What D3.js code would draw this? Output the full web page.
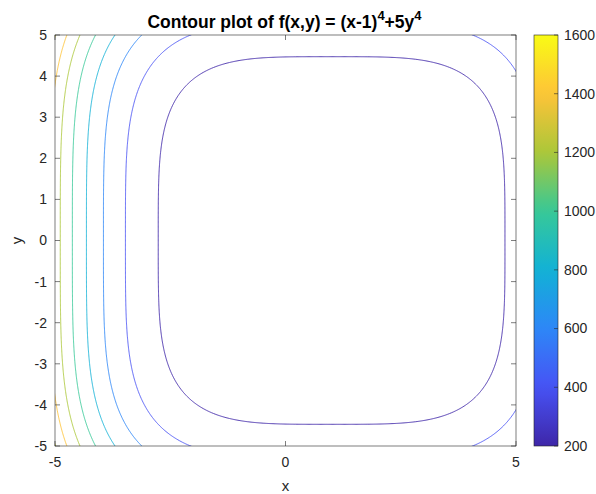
<!DOCTYPE html>
<html>
<head>
<meta charset="utf-8">
<script src="https://cdn.jsdelivr.net/npm/d3@7"></script>
<style>
  html, body { margin: 0; padding: 0; background: #fff; }
  svg { display: block; font-family: "Liberation Sans", Arial, Helvetica, sans-serif; }
</style>
</head>
<body>
<svg id="chart" width="596" height="494"></svg>
<script>
// Contour levels drawn and colour limits of the colour bar
const levels = [200, 400, 600, 800, 1000, 1200, 1400, 1600];
const colorLimits = [200, 1600];
const colorbarTicks = [200, 400, 600, 800, 1000, 1200, 1400, 1600];

// Axis ranges and tick values
const xDomain = [-5, 5];
const yDomain = [-5, 5];
const xTicks = [-5, 0, 5];
const yTicks = [-5, -4, -3, -2, -1, 0, 1, 2, 3, 4, 5];

// Terms of the surface: f = (x - xShift)^4 + yWeight * y^4
const xShift = [1];
const yWeight = [0.5];

// Parula colormap key colours (evenly spaced)
const parulaStops = [
  [0.2422, 0.1504, 0.6603],
  [0.2810, 0.3228, 0.9579],
  [0.1786, 0.5289, 0.9682],
  [0.0689, 0.6948, 0.8394],
  [0.2161, 0.7843, 0.5923],
  [0.6720, 0.7793, 0.2227],
  [0.9970, 0.7659, 0.2199],
  [0.9769, 0.9839, 0.0805]
];

const svg = d3.select("#chart");
const plot = { left: 55, right: 516, top: 35, bottom: 446 };
const cbar = { left: 534, right: 558, top: 35, bottom: 446 };
const axisColor = "#262626";
const tickLen = 5;

const x = d3.scaleLinear().domain(xDomain).range([plot.left, plot.right]);
const y = d3.scaleLinear().domain(yDomain).range([plot.bottom, plot.top]);

const parula = d3.piecewise(d3.interpolateRgb,
  parulaStops.map(c => d3.rgb(c[0] * 255, c[1] * 255, c[2] * 255)));
const color = d3.scaleSequential(parula).domain(colorLimits);

// Sample the surface on a grid slightly wider than the axes so that
// the grid border never shows inside the clipped plot area.
const pad = 0.25, step = 0.02;
const gx0 = xDomain[0] - pad, gy0 = yDomain[0] - pad;
const n = Math.round((xDomain[1] - xDomain[0] + 2 * pad) / step) + 1;
const m = Math.round((yDomain[1] - yDomain[0] + 2 * pad) / step) + 1;
const values = new Float64Array(n * m);
for (let j = 0; j < m; j++) {
  const yy = gy0 + j * step;
  for (let i = 0; i < n; i++) {
    const xx = gx0 + i * step;
    values[j * n + i] = Math.pow(xx - xShift[0], 4) + yWeight[0] * Math.pow(yy, 4);
  }
}

const contours = d3.contours().size([n, m]).thresholds(levels)(values);

// Grid coordinates (values sit at cell centres) -> pixel coordinates
const toPixels = d3.geoTransform({
  point(px, py) {
    this.stream.point(x(gx0 + (px - 0.5) * step), y(gy0 + (py - 0.5) * step));
  }
});
const path = d3.geoPath(toPixels);

const defs = svg.append("defs");
defs.append("clipPath").attr("id", "plot-clip")
  .append("rect")
  .attr("x", plot.left).attr("y", plot.top)
  .attr("width", plot.right - plot.left).attr("height", plot.bottom - plot.top);

svg.append("g")
  .attr("clip-path", "url(#plot-clip)")
  .selectAll("path")
  .data(contours)
  .join("path")
  .attr("d", path)
  .attr("fill", "none")
  .attr("stroke", d => color(d.value))
  .attr("stroke-width", 0.9);

// Axes box with inward ticks on all four sides
const axes = svg.append("g").attr("stroke", axisColor).attr("stroke-width", 0.6);
axes.append("rect")
  .attr("x", plot.left).attr("y", plot.top)
  .attr("width", plot.right - plot.left).attr("height", plot.bottom - plot.top)
  .attr("fill", "none");

xTicks.forEach(t => {
  axes.append("line").attr("x1", x(t)).attr("x2", x(t)).attr("y1", plot.bottom).attr("y2", plot.bottom - tickLen);
  axes.append("line").attr("x1", x(t)).attr("x2", x(t)).attr("y1", plot.top).attr("y2", plot.top + tickLen);
});
yTicks.forEach(t => {
  axes.append("line").attr("x1", plot.left).attr("x2", plot.left + tickLen).attr("y1", y(t)).attr("y2", y(t));
  axes.append("line").attr("x1", plot.right).attr("x2", plot.right - tickLen).attr("y1", y(t)).attr("y2", y(t));
});

const tickFont = 14;
svg.append("g").selectAll("text").data(xTicks).join("text")
  .attr("x", d => x(d)).attr("y", plot.bottom + 21)
  .attr("text-anchor", "middle")
  .attr("font-size", tickFont).attr("fill", axisColor)
  .text(d => d);

svg.append("g").selectAll("text").data(yTicks).join("text")
  .attr("x", plot.left - 8).attr("y", d => y(d))
  .attr("dy", "0.35em")
  .attr("text-anchor", "end")
  .attr("font-size", tickFont).attr("fill", axisColor)
  .text(d => d);

// Axis labels
svg.append("text")
  .attr("x", (plot.left + plot.right) / 2).attr("y", 491)
  .attr("text-anchor", "middle")
  .attr("font-size", 15).attr("fill", axisColor)
  .text("x");

svg.append("text")
  .attr("transform", `translate(22, ${(plot.top + plot.bottom) / 2}) rotate(-90)`)
  .attr("text-anchor", "middle")
  .attr("font-size", 15).attr("fill", axisColor)
  .text("y");

// Title with superscript exponents
const title = svg.append("text")
  .attr("x", (plot.left + plot.right) / 2 - 1).attr("y", 28)
  .attr("text-anchor", "middle")
  .attr("font-size", 17.5).attr("font-weight", "bold").attr("fill", "#000");
title.append("tspan").text("Contour plot of f(x,y) = (x-1)");
title.append("tspan").attr("dy", -8).attr("font-size", 13).text("4");
title.append("tspan").attr("dy", 8).text("+5y");
title.append("tspan").attr("dy", -8).attr("font-size", 13).text("4");

// Colour bar
const cy = d3.scaleLinear().domain(colorLimits).range([cbar.bottom, cbar.top]);
const grad = defs.append("linearGradient").attr("id", "cbar-grad")
  .attr("x1", 0).attr("y1", 1).attr("x2", 0).attr("y2", 0);
d3.range(0, 1.0001, 1 / 32).forEach(t => {
  grad.append("stop").attr("offset", t)
    .attr("stop-color", color(colorLimits[0] + t * (colorLimits[1] - colorLimits[0])));
});
svg.append("rect")
  .attr("x", cbar.left).attr("y", cbar.top)
  .attr("width", cbar.right - cbar.left).attr("height", cbar.bottom - cbar.top)
  .attr("fill", "url(#cbar-grad)")
  .attr("stroke", axisColor).attr("stroke-width", 0.6);

const cb = svg.append("g");
colorbarTicks.forEach(t => {
  cb.append("line")
    .attr("x1", cbar.right).attr("x2", cbar.right - 4)
    .attr("y1", cy(t)).attr("y2", cy(t))
    .attr("stroke", axisColor).attr("stroke-width", 0.6);
  cb.append("text")
    .attr("x", cbar.right + 6).attr("y", cy(t)).attr("dy", "0.35em")
    .attr("font-size", tickFont).attr("fill", axisColor)
    .text(t);
});
</script>
</body>
</html>
